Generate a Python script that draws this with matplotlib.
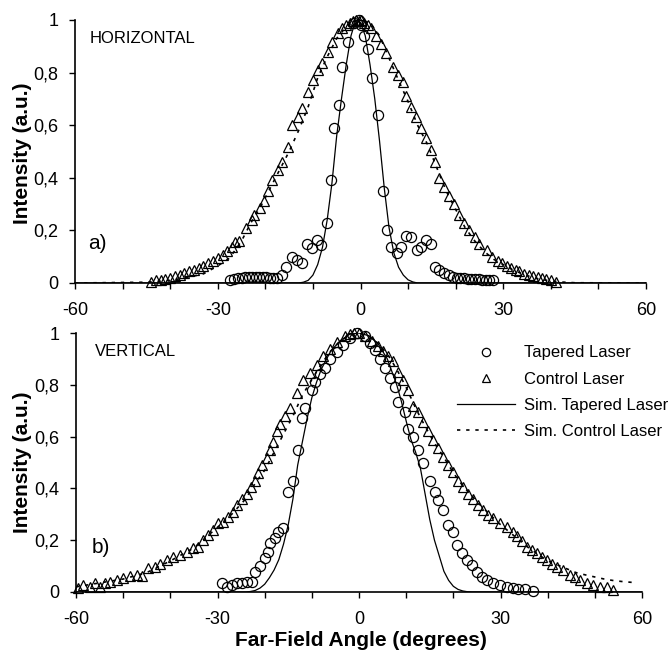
import matplotlib
matplotlib.use("Agg")
import matplotlib.pyplot as plt
from matplotlib.lines import Line2D

plt.rcParams['font.family'] = ['Liberation Sans', 'DejaVu Sans']
plt.rcParams['axes.unicode_minus'] = False

# ---------------- HORIZONTAL (panel a) ----------------
h_ctrl_x = [-44, -43, -42, -41, -40, -39, -38, -37, -36, -35, -34, -33, -32, -31, -30,
            -29, -28, -27, -26.3, -25.6, -24, -22.8, -22.3, -21.2, -20.3, -19.5, -18.5,
            -17.4, -16.4, -15.3, -14.5, -13.2, -12.2, -11.1, -10, -9, -8, -6.9, -5.9,
            -4.8, -3.8, -3, -2.3, -1.6, -1, -0.4, 0.2, 0.8, 1.5, 2.3, 3.3, 4.4, 5.4, 6.8,
            7.8, 8.9, 9.6, 10.7, 11.7, 12.8, 13.8, 14.9, 15.6, 16.6, 17.6, 18.7, 19.7,
            20.8, 21.8, 22.9, 24, 25, 26.5, 27.7, 28.8, 29.8, 30.8, 31.7, 32.6, 33.4,
            34.4, 35.5, 36.3, 37.2, 38.1, 39, 40, 41]
h_ctrl_y = [0.005, 0.01, 0.013, 0.016, 0.02, 0.025, 0.03, 0.037, 0.045, 0.05, 0.057, 0.065,
            0.075, 0.085, 0.095, 0.105, 0.12, 0.135, 0.155, 0.16, 0.21, 0.24, 0.26, 0.285,
            0.31, 0.35, 0.39, 0.43, 0.46, 0.517, 0.6, 0.63, 0.665, 0.726, 0.77, 0.81, 0.837,
            0.88, 0.916, 0.95, 0.97, 0.98, 0.99, 0.995, 1.0, 0.995, 1.0, 0.99, 0.98, 0.97,
            0.94, 0.91, 0.875, 0.82, 0.79, 0.764, 0.71, 0.67, 0.63, 0.59, 0.55, 0.505, 0.46,
            0.40, 0.365, 0.33, 0.30, 0.26, 0.23, 0.20, 0.175, 0.15, 0.125, 0.1, 0.085, 0.076,
            0.066, 0.058, 0.05, 0.045, 0.036, 0.03, 0.025, 0.022, 0.018, 0.015, 0.01, 0.005]

h_tap_x = [-27.5, -26.5, -25.8, -25, -24.3, -23.5, -22.8, -22, -21.3, -20.5, -19.8, -19,
           -18.3, -17.5, -16.4, -15.6, -14.5, -13.4, -12.2, -11.3, -10.1, -9.2, -8.2, -7.1,
           -6.3, -5.5, -4.6, -3.8, -2.7, -1.3, -0.4, 0.2, 0.8, 1.5, 2.5, 3.6, 4.7, 5.5, 6.5,
           7.6, 8.6, 9.6, 10.7, 11.8, 12.8, 13.8, 14.9, 15.6, 16.6, 17.6, 18.6, 19.5, 20.3,
           21, 21.8, 22.5, 23.3, 24, 24.8, 25.5, 26.3, 27, 27.8]
h_tap_y = [0.01, 0.015, 0.02, 0.02, 0.022, 0.022, 0.022, 0.022, 0.022, 0.022, 0.022, 0.02,
           0.02, 0.02, 0.03, 0.06, 0.1, 0.087, 0.076, 0.15, 0.133, 0.163, 0.145, 0.23, 0.39,
           0.59, 0.675, 0.82, 0.916, 0.99, 1.0, 0.98, 0.94, 0.89, 0.78, 0.64, 0.35, 0.2,
           0.137, 0.113, 0.137, 0.18, 0.175, 0.125, 0.137, 0.163, 0.15, 0.06, 0.05, 0.038,
           0.03, 0.022, 0.02, 0.018, 0.018, 0.015, 0.015, 0.015, 0.015, 0.012, 0.012, 0.01, 0.01]

h_simtap_x = [-60, -13, -12, -11, -10, -9, -8, -7, -6, -5, -4, -3, -2, -1, 0, 1, 2, 3, 4,
              5, 6, 7, 8, 9, 10, 11, 12, 60]
h_simtap_y = [0, 0, 0.003, 0.01, 0.03, 0.07, 0.135, 0.24, 0.38, 0.56, 0.70, 0.83, 0.94,
              1.0, 0.99, 0.94, 0.83, 0.70, 0.54, 0.36, 0.21, 0.115, 0.06, 0.03, 0.012,
              0.004, 0, 0]

h_simctl_x = [-60, -45, -40, -36, -33, -30, -27.5, -25, -23, -21, -19, -17, -15, -13, -11,
              -9, -7, -5, -3, -1, 0, 2, 4, 6, 8, 10, 12, 14, 16, 18, 20, 22, 24, 26, 28,
              30, 32, 34, 36, 38, 40, 42, 45, 60]
h_simctl_y = [0, 0.003, 0.01, 0.022, 0.035, 0.065, 0.095, 0.16, 0.23, 0.29, 0.36, 0.43,
              0.5, 0.58, 0.67, 0.78, 0.86, 0.93, 0.975, 0.997, 1.0, 0.99, 0.94, 0.855, 0.77,
              0.69, 0.6, 0.53, 0.44, 0.35, 0.28, 0.21, 0.16, 0.12, 0.09, 0.07, 0.05, 0.035,
              0.022, 0.013, 0.008, 0.004, 0.001, 0]

# ---------------- VERTICAL (panel b) ----------------
v_ctrl_x = [-59.5, -58.5, -57, -56, -55, -53.8, -52.8, -51.3, -50, -48.5, -47, -46, -44.7,
            -43.2, -42.2, -40.7, -39.4, -37.9, -36.4, -35.2, -34.1, -33, -32, -30.9, -29.8,
            -28.8, -27.7, -26.7, -25.8, -24.8, -23.7, -23, -22, -21.4, -20.5, -19.5, -18.9,
            -18.2, -17.4, -16.7, -15.7, -14.6, -13.1, -11.9, -10.4, -8.9, -7.6, -6.1, -4.7,
            -3, -2, -1, 0, 1.3, 2.8, 4, 5.1, 6.1, 7.2, 8.3, 9.3, 10.4, 11.4, 12.5, 13.6,
            14.6, 15.7, 16.7, 17.8, 18.9, 19.9, 21, 22, 23.1, 24.2, 25.2, 26.3, 27.3, 28.4,
            29.9, 31.4, 32.6, 33.5, 34.5, 35.6, 36.6, 37.7, 38.8, 39.8, 40.9, 41.9, 43.2,
            44.7, 45.8, 46.8, 48.3, 49.6, 51, 52.5, 53.8]
v_ctrl_y = [0.015, 0.027, 0.02, 0.035, 0.02, 0.035, 0.04, 0.046, 0.054, 0.062, 0.066, 0.062,
            0.093, 0.097, 0.11, 0.124, 0.135, 0.143, 0.154, 0.17, 0.174, 0.2, 0.22, 0.24,
            0.266, 0.27, 0.29, 0.31, 0.335, 0.36, 0.38, 0.405, 0.43, 0.46, 0.49, 0.517, 0.55,
            0.58, 0.62, 0.65, 0.68, 0.71, 0.77, 0.82, 0.845, 0.875, 0.91, 0.94, 0.965, 0.99,
            0.995, 1.0, 1.0, 0.99, 0.97, 0.95, 0.93, 0.91, 0.89, 0.85, 0.82, 0.78, 0.72,
            0.695, 0.655, 0.62, 0.585, 0.555, 0.52, 0.49, 0.465, 0.43, 0.405, 0.38, 0.36,
            0.335, 0.315, 0.297, 0.285, 0.266, 0.25, 0.23, 0.215, 0.195, 0.175, 0.162, 0.15,
            0.137, 0.124, 0.11, 0.097, 0.085, 0.066, 0.056, 0.046, 0.035, 0.027, 0.02, 0.02,
            0.008]

v_tap_x = [-29, -28, -27, -25.8, -24.8, -23.7, -22.7, -22, -21, -19.9, -19.3, -18.9, -17.8,
           -17.2, -16.1, -15, -14, -12.9, -12.1, -11.4, -10, -9.3, -8.3, -7.2, -6.1, -4.7,
           -3.4, -1.9, -0.4, 1.3, 2.3, 3.4, 4.4, 5.5, 6.6, 7.6, 8.3, 9.7, 10.4, 11.4, 12.5,
           13.6, 15, 16.1, 16.7, 17.8, 18.9, 19.9, 20.8, 21.8, 22.9, 23.9, 25, 26, 27.1,
           28.4, 29.9, 31.4, 32.6, 33.8, 35.2, 36.9]
v_tap_y = [0.035, 0.02, 0.027, 0.035, 0.035, 0.04, 0.04, 0.077, 0.1, 0.13, 0.155, 0.19,
           0.21, 0.23, 0.247, 0.386, 0.43, 0.548, 0.67, 0.71, 0.78, 0.81, 0.84, 0.865, 0.9,
           0.925, 0.955, 0.98, 1.0, 0.99, 0.96, 0.935, 0.9, 0.865, 0.826, 0.79, 0.735,
           0.695, 0.63, 0.6, 0.55, 0.5, 0.43, 0.386, 0.355, 0.317, 0.26, 0.23, 0.18, 0.15,
           0.124, 0.104, 0.077, 0.058, 0.046, 0.035, 0.027, 0.02, 0.015, 0.012, 0.01, 0.005]

v_simtap_x = [-60, -24, -23, -22, -21, -20, -19, -18, -17, -16, -15, -14, -13, -12, -11,
              -10, -9, -8, -6, -4, -2, 0, 2, 4, 6, 8, 9, 10, 11, 12, 13, 14, 15, 16, 17, 18,
              19, 20, 21, 22, 23, 24, 60]
v_simtap_y = [0, 0, 0.002, 0.006, 0.015, 0.03, 0.055, 0.085, 0.125, 0.185, 0.26, 0.36,
              0.49, 0.58, 0.67, 0.75, 0.81, 0.86, 0.93, 0.97, 0.995, 1.0, 0.99, 0.96, 0.9,
              0.8, 0.735, 0.66, 0.59, 0.54, 0.48, 0.38, 0.28, 0.2, 0.14, 0.08, 0.045, 0.022,
              0.01, 0.004, 0.001, 0, 0]

v_simctl_x = [-60, -55, -50, -45, -40, -35, -30, -27, -24, -22, -20, -18, -16, -14, -12,
              -10, -8, -6, -4, -2, 0, 2, 4, 6, 8, 10, 12, 14, 16, 18, 20, 22, 24, 26, 28,
              30, 32, 34, 36, 38, 40, 42, 44, 46, 48, 50, 52, 54, 56, 58]
v_simctl_y = [0.02, 0.035, 0.05, 0.075, 0.12, 0.17, 0.25, 0.3, 0.36, 0.42, 0.47, 0.54,
              0.61, 0.68, 0.76, 0.82, 0.88, 0.93, 0.97, 0.99, 1.0, 0.99, 0.96, 0.92, 0.86,
              0.79, 0.71, 0.64, 0.575, 0.52, 0.46, 0.41, 0.37, 0.33, 0.295, 0.26, 0.23, 0.2,
              0.17, 0.145, 0.12, 0.105, 0.09, 0.075, 0.066, 0.058, 0.05, 0.044, 0.04, 0.037]

x_ticks = [-60, -30, 0, 30, 60]
x_minor = [-50, -40, -20, -10, 10, 20, 40, 50]
y_ticks = [0, 0.2, 0.4, 0.6, 0.8, 1.0]
y_ticklabels = ['0', '0,2', '0,4', '0,6', '0,8', '1']
legend_labels = ['Tapered Laser', 'Control Laser', 'Sim. Tapered Laser', 'Sim. Control Laser']

W, H = 670, 651
fig = plt.figure(figsize=(W / 100, H / 100), dpi=100)
ax1 = fig.add_axes([75 / W, 1 - 283 / H, 571 / W, 263 / H])
ax2 = fig.add_axes([76 / W, 1 - 592 / H, 566 / W, 259 / H])

mk = dict(linestyle='none', mfc='none', mec='black', mew=0.9, ms=7.3, clip_on=False)
dots = dict(color='black', lw=1.2, dashes=(2.0, 3.5))


def style(ax):
    ax.set_xlim(-60, 60)
    ax.set_ylim(0, 1)
    for s in ['top', 'right']:
        ax.spines[s].set_visible(False)
    for s in ['left', 'bottom']:
        ax.spines[s].set_linewidth(1.2)
    ax.set_xticks(x_ticks)
    ax.set_xticks(x_minor, minor=True)
    ax.set_yticks(y_ticks)
    ax.set_yticklabels(y_ticklabels)
    ax.tick_params(which='both', direction='out', length=4, width=1)
    ax.tick_params(axis='x', labelsize=13, pad=10)
    ax.tick_params(axis='y', labelsize=13, pad=8)


for ax, cx, cy, tx, ty, sx, sy, dx, dy in [
    (ax1, h_ctrl_x, h_ctrl_y, h_tap_x, h_tap_y, h_simtap_x, h_simtap_y, h_simctl_x, h_simctl_y),
    (ax2, v_ctrl_x, v_ctrl_y, v_tap_x, v_tap_y, v_simtap_x, v_simtap_y, v_simctl_x, v_simctl_y)]:
    ax.plot(sx, sy, color='black', lw=0.9)
    ax.plot(dx, dy, **dots)
    ax.plot(tx, ty, marker='o', **mk)
    ax.plot(cx, cy, marker='^', **mk)
    style(ax)

ax1.text(0.026, 0.93, 'HORIZONTAL', transform=ax1.transAxes, fontsize=12, ha='left', va='center')
ax1.text(0.023, 0.15, 'a)', transform=ax1.transAxes, fontsize=15, ha='left', va='center')
ax2.text(0.034, 0.93, 'VERTICAL', transform=ax2.transAxes, fontsize=12, ha='left', va='center')
ax2.text(0.028, 0.17, 'b)', transform=ax2.transAxes, fontsize=15, ha='left', va='center')

fig.text(23 / W, 1 - 153 / H, 'Intensity (a.u.)', rotation=90, ha='center', va='center',
         fontsize=15, fontweight='bold')
fig.text(23 / W, 1 - 462 / H, 'Intensity (a.u.)', rotation=90, ha='center', va='center',
         fontsize=15, fontweight='bold')
fig.text(361 / W, 1 - 640 / H, 'Far-Field Angle (degrees)', ha='center', va='center',
         fontsize=15, fontweight='bold')

handles = [
    Line2D([], [], marker='o', linestyle='none', mfc='none', mec='black', mew=0.9, ms=6),
    Line2D([], [], marker='^', linestyle='none', mfc='none', mec='black', mew=0.9, ms=6),
    Line2D([], [], color='black', lw=0.9),
    Line2D([], [], **dots),
]
ax2.legend(handles, legend_labels, loc='upper left', bbox_to_anchor=(0.673, 0.952),
           bbox_transform=ax2.transAxes, frameon=False, fontsize=12, numpoints=1,
           handlelength=3.5, handletextpad=0.5, labelspacing=0.67, borderpad=0,
           borderaxespad=0)

fig.savefig('out.png', dpi=100)
